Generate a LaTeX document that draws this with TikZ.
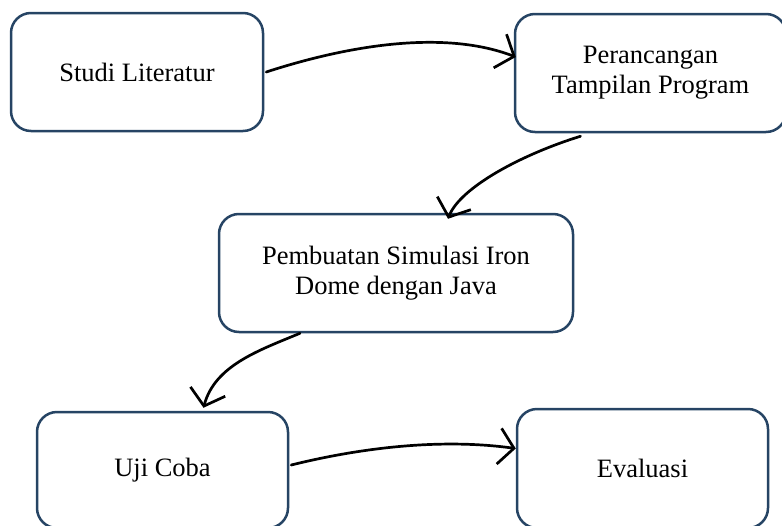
\documentclass[tikz,border=0pt]{standalone}
\usepackage{fontspec}
\setmainfont{Liberation Serif}
\usetikzlibrary{arrows.meta}
\definecolor{boxc}{RGB}{38,68,100}
\begin{document}
\begin{tikzpicture}[x=1pt,y=-1pt,
  stepbox/.style={draw=boxc, line width=2.5pt, rounded corners=20pt, align=center,
    inner sep=0pt, fill=white, font=\fontsize{26.5}{30}\selectfont},
  flow/.style={line width=2.7pt, black, line cap=round,
    -{Straight Barb[length=15pt,width=36pt,line width=2.7pt]}}]
\useasboundingbox (0,0) rectangle (782,525);
\node[stepbox, minimum width=252pt, minimum height=118pt] (b1) at (137,72) {Studi Literatur};
\node[stepbox, minimum width=271pt, minimum height=118pt] (b2) at (650.5,73) {Perancangan\\Tampilan Program};
\node[stepbox, minimum width=354pt, minimum height=118pt] (b3) at (396,273) {Pembuatan Simulasi Iron\\Dome dengan Java};
\node[stepbox, minimum width=251pt, minimum height=116pt] (b4) at (162.5,470) {Uji Coba};
\node[stepbox, minimum width=251pt, minimum height=119pt] (b5) at (642.5,468.5) {Evaluasi};

\draw[flow] ([xshift=2pt]b1.east) .. controls (340,48) and (440,28) .. ([xshift=2pt,yshift=16pt]b2.west);
\draw[flow] ([xshift=-70pt,yshift=-3pt]b2.south) .. controls (520,155) and (460,188) .. ([xshift=52pt,yshift=-6pt]b3.north);
\draw[flow] ([xshift=-96pt]b3.south) .. controls (260,350) and (215,365) .. ([xshift=41pt,yshift=3pt]b4.north);
\draw[flow] ([xshift=2pt,yshift=5pt]b4.east) .. controls (360,448) and (440,438) .. ([yshift=20pt]b5.west);
\end{tikzpicture}
\end{document}
